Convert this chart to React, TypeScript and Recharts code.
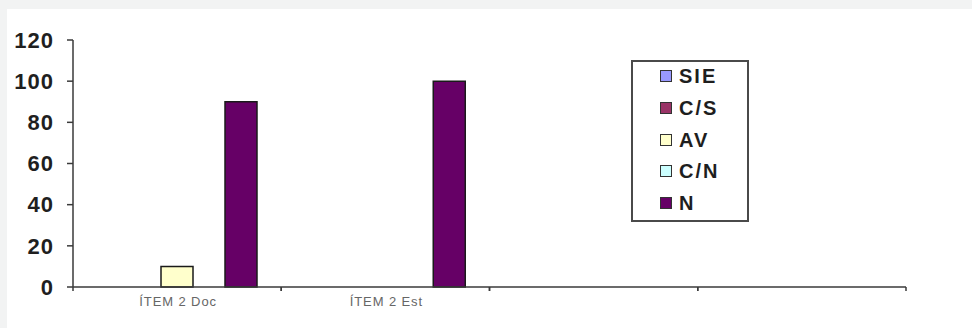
import React from 'react';
import { BarChart, Bar, XAxis, YAxis, Legend } from 'recharts';

const categories = ['ÍTEM 2 Doc', 'ÍTEM 2 Est', '', ''];
const sieValues: (number | null)[] = [null, null, null, null];
const csValues: (number | null)[] = [null, null, null, null];
const avValues: (number | null)[] = [10, null, null, null];
const cnValues: (number | null)[] = [null, null, null, null];
const nValues: (number | null)[] = [90, 100, null, null];
const yTicks = [0, 20, 40, 60, 80, 100, 120];

const seriesNames = ['SIE', 'C/S', 'AV', 'C/N', 'N'];
const seriesColors = ['#9999ff', '#993366', '#ffffcc', '#ccffff', '#660066'];
const seriesValues = [sieValues, csValues, avValues, cnValues, nValues];

const data = categories.map((c, i) => {
  const row: Record<string, any> = { cat: c, idx: i };
  seriesNames.forEach((n, s) => {
    row[n] = seriesValues[s][i];
  });
  return row;
});

const FONT = '"Liberation Sans", Arial, sans-serif';
const AXIS = '#3a3a3a';

const CatTick = (props: any) => {
  const { x, y, payload } = props;
  const half = payload && payload.offset ? payload.offset : 0;
  const axisY = y - 6;
  return (
    <g>
      <line x1={x - half} x2={x - half} y1={axisY} y2={axisY + 4} stroke={AXIS} strokeWidth={1.5} />
      <line x1={x + half} x2={x + half} y1={axisY} y2={axisY + 4} stroke={AXIS} strokeWidth={1.5} />
      <text
        x={x + 1}
        y={axisY + 19}
        textAnchor="middle"
        fontFamily={FONT}
        fontSize={13}
        letterSpacing={0.9}
        fill="#666666"
      >
        {payload.value}
      </text>
    </g>
  );
};

const LegendBox = (props: any) => {
  const payload = [...(props.payload || [])].sort(
    (a: any, b: any) => seriesNames.indexOf(a.value) - seriesNames.indexOf(b.value)
  );
  return (
    <div
      style={{
        position: 'relative',
        width: 118,
        height: 162,
        boxSizing: 'border-box',
        border: '2px solid #4a4a4a',
        background: '#ffffff',
      }}
    >
      {payload.map((p: any, i: number) => (
        <div
          key={i}
          style={{
            position: 'absolute',
            left: 27,
            top: 2 + i * 31.75,
            height: 24,
            display: 'flex',
            alignItems: 'center',
          }}
        >
          <div
            style={{
              width: 10,
              height: 10,
              background: p.color,
              border: '1px solid #333',
              marginRight: 7,
            }}
          />
          <span
            style={{
              fontFamily: FONT,
              fontWeight: 'bold',
              fontSize: 20,
              letterSpacing: 2,
              color: '#1e1e1e',
              lineHeight: '24px',
            }}
          >
            {p.value}
          </span>
        </div>
      ))}
    </div>
  );
};

export default function App() {
  return (
    <div
      style={{
        position: 'fixed',
        left: 0,
        top: 0,
        width: 972,
        height: 328,
        background: '#f2f3f3',
      }}
    >
      <div style={{ position: 'absolute', left: 7, top: 9, width: 965, height: 319, background: '#ffffff' }}>
        <BarChart
          width={965}
          height={319}
          data={data}
          margin={{ top: 31, right: 66, bottom: 11, left: 6 }}
          barCategoryGap={24}
          barGap={0}
        >
          <XAxis
            dataKey="cat"
            type="category"
            interval={0}
            height={30}
            tickLine={false}
            tickSize={6}
            tickMargin={0}
            axisLine={{ stroke: AXIS, strokeWidth: 1.5 }}
            tick={<CatTick />}
          />
          <YAxis
            width={60}
            domain={[0, 120]}
            ticks={yTicks}
            interval={0}
            tickSize={6}
            tickMargin={13}
            axisLine={{ stroke: AXIS, strokeWidth: 1.5 }}
            tickLine={{ stroke: AXIS, strokeWidth: 1.5 }}
            tick={{ fontFamily: FONT, fontWeight: 'bold', fontSize: 22, fill: '#1f1f1f', letterSpacing: 1 }}
          />
          <Legend
            layout="horizontal"
            verticalAlign="middle"
            align="center"
            content={<LegendBox />}
            wrapperStyle={{ position: 'absolute', left: 624, top: 51, width: 118, height: 162 }}
          />
          {seriesNames.map((n, s) => (
            <Bar
              key={n}
              dataKey={n}
              name={n}
              fill={seriesColors[s]}
              stroke="#1a1a1a"
              strokeWidth={1.5}
              isAnimationActive={false}
            />
          ))}
        </BarChart>
      </div>
    </div>
  );
}
